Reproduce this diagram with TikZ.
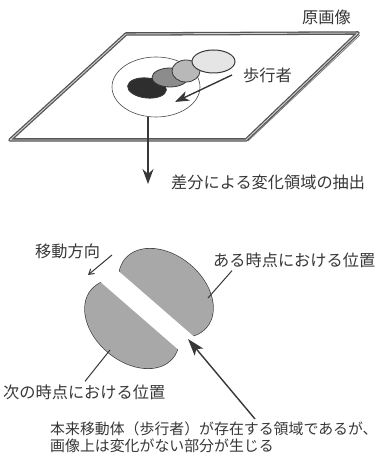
\documentclass[tikz,border=0pt]{standalone}
\usepackage{fontspec}
\setmainfont{Noto Sans CJK JP}
\usepackage{xcolor}
\usepackage{tikz}
\usetikzlibrary{arrows.meta,shapes.geometric,positioning,calc}
\definecolor{inkGray}  {RGB}{55, 55, 55}
\definecolor{blobGray} {RGB}{168,168,168}

\begin{document}
\begin{tikzpicture}[x=1pt,y=1pt,
          lbl/.style={text=inkGray,font=\fontsize{16.2}{18}\selectfont,inner sep=0pt},
          rim/.style={draw=inkGray!85,line width=1.3pt,double=gray!35,
                      double distance=0.9pt,line join=round},
          walker/.style={ellipse,draw=inkGray,line width=0.8pt,inner sep=0pt},
          lead/.style={inkGray,line width=1pt},
          blob/.style={x radius=53,y radius=37,rotate=-40}]
          \useasboundingbox (0,0) rectangle (379,468);
          % image plane
          \coordinate (tl) at (126,434);
          \coordinate (tr) at (358,435);
          \coordinate (br) at (246,328);
          \coordinate (bl) at (10,328);
          \draw[rim] (tl) -- (tr) -- (br) -- (bl) -- cycle;
          \draw[inkGray!70,line width=0.7pt] ($(tr)+(2,-2)$) -- ($(br)+(2,-1)$);
          \node[lbl,anchor=east] (orig) at (351,451) {原画像};
          % pedestrian on the plane
          \node[ellipse,draw=inkGray!90,line width=0.6pt,fill=white,
                minimum width=88pt,minimum height=60pt] (area) at (156,381) {};
          \node[walker,fill=black!82,rotate=-6,minimum width=39pt,minimum height=20pt] (p1) at (147,380) {};
          \node[walker,fill=black!45,minimum width=36pt,minimum height=19pt] (p2) at (170,390.5) {};
          \node[walker,fill=black!28,minimum width=28pt,minimum height=22pt] (p3) at (186,397) {};
          \node[walker,fill=black!10,line width=1pt,minimum width=43pt,minimum height=23pt] (p4) at (213.5,406.5) {};
          \node[lbl,anchor=west] (walk) at (243,393) {歩行者};
          \coordinate (wt) at (232,393);
          \coordinate (wh) at (175,366);
          \draw[-{Stealth[length=14pt,width=10pt,inset=4pt]},inkGray,line width=1.4pt] (wt) -- (wh);
          % extraction step
          \coordinate (drop) at (148,351);
          \coordinate (dropEnd) at (148,284);
          \draw[-{Stealth[length=15pt,width=11pt,inset=5pt]},inkGray,line width=1.2pt] (drop) -- (dropEnd);
          \node[lbl,anchor=west] (diff) at (171,286) {差分による変化領域の抽出};
          % changed region
          \coordinate (posA) at (166,175);
          \coordinate (posB) at (132,144);
          \draw[inkGray,line width=1.3pt] (posA) ellipse[blob] (posB) ellipse[blob];
          \fill[blobGray] (posA) ellipse[blob] (posB) ellipse[blob];
          \fill[white,rotate around={-41:(148,158)},rounded corners=6pt] (60,148) rectangle (240,168);
          % labels
          \node[lbl,anchor=west] (dir) at (35,217) {移動方向};
          \coordinate (dt) at (112,213);
          \coordinate (dh) at (88,193);
          \draw[-{Straight Barb[length=5pt,width=6pt]},lead] (dt) -- (dh);
          \node[lbl,anchor=west] (now) at (213,208) {ある時点における位置};
          \draw[lead] ($(now.south west)+(19,-3)$) -- (208,170);
          \node[lbl,anchor=west] (next) at (3,76) {次の時点における位置};
          \draw[lead] ($(next.north west)+(82,3)$) -- (110,118);
          \node[lbl,anchor=north west,align=left,font=\fontsize{14.9}{16.5}\selectfont]
               (note) at (50,46) {本来移動体（歩行者）が存在する領域であるが、\\画像上は変化がない部分が生じる};
          \draw[-{Stealth[length=17pt,width=11pt,inset=4pt]},inkGray,line width=1.4pt]
               ($(note.north west)+(205,3)$) -- (188,129);
        \end{tikzpicture}
\end{document}
